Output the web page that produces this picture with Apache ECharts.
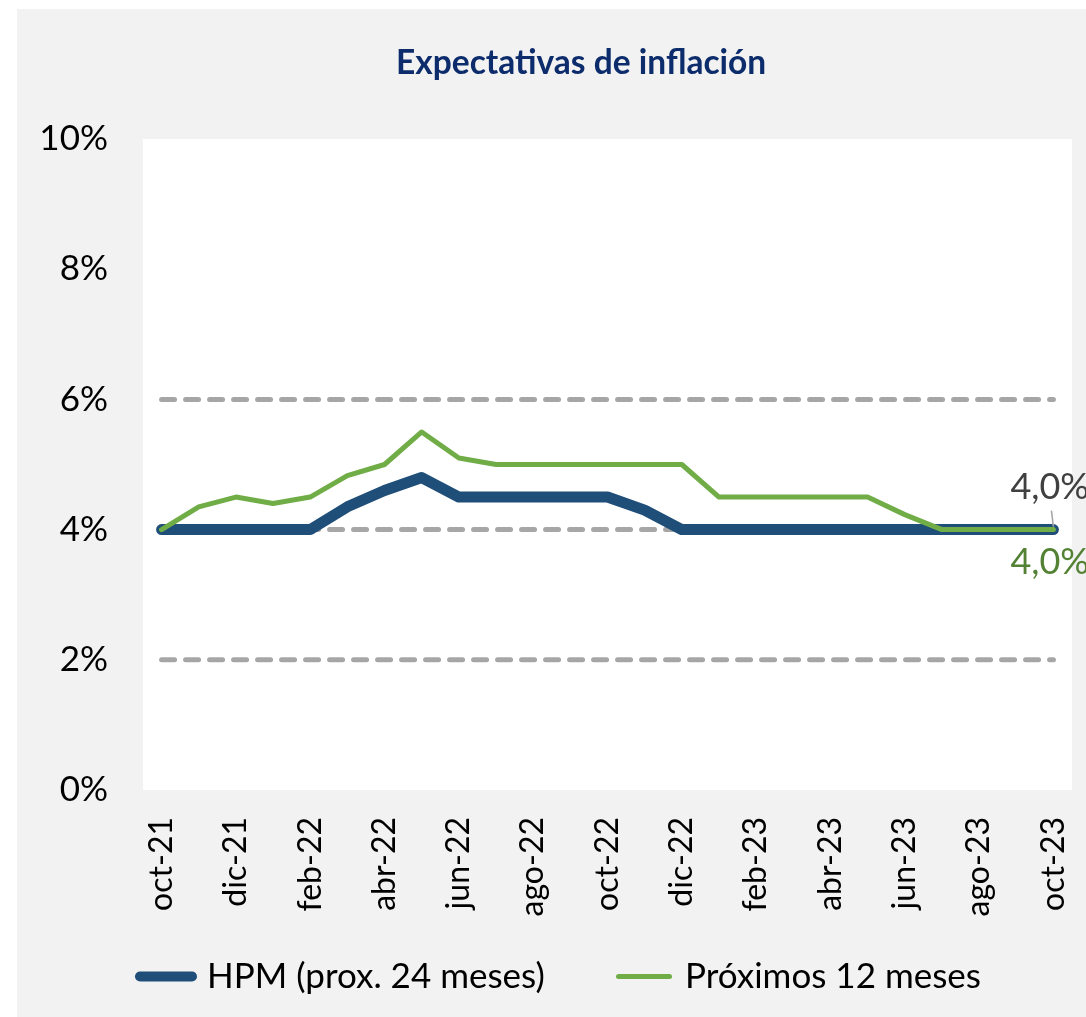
<!DOCTYPE html>
<html>
<head>
<meta charset="utf-8">
<script src="https://cdn.jsdelivr.net/npm/echarts@6/dist/echarts.min.js"></script>
<style>
html,body{margin:0;padding:0;background:#fff;}
#c{width:1086px;height:1017px;}
</style>
</head>
<body>
<div id="c"></div>
<script>
const categories = ['oct-21','nov-21','dic-21','ene-22','feb-22','mar-22','abr-22','may-22','jun-22','jul-22','ago-22','sep-22','oct-22','nov-22','dic-22','ene-23','feb-23','mar-23','abr-23','may-23','jun-23','jul-23','ago-23','sep-23','oct-23'];
const hpm = [4.0,4.0,4.0,4.0,4.0,4.35,4.6,4.8,4.5,4.5,4.5,4.5,4.5,4.3,4.0,4.0,4.0,4.0,4.0,4.0,4.0,4.0,4.0,4.0,4.0];
const prox12 = [4.0,4.35,4.5,4.4,4.5,4.83,5.0,5.5,5.1,5.0,5.0,5.0,5.0,5.0,5.0,4.5,4.5,4.5,4.5,4.5,4.23,4.0,4.0,4.0,4.0];
const refLevels = [2, 4, 6];
const yTicks = [0, 2, 4, 6, 8, 10];
const seriesNames = ['HPM (prox. 24 meses)', 'Próximos 12 meses'];
const titleText = 'Expectativas de inflación';

const FONT = 'Lato';
const chart = echarts.init(document.getElementById('c'), null, {renderer: 'canvas'});

function withEndLabel(arr, color, dy) {
  return arr.map((v, i) => {
    if (i !== arr.length - 1) return v;
    return {
      value: v,
      label: {
        show: true,
        position: 'inside',
        align: 'left',
        verticalAlign: 'middle',
        offset: [-43, dy],
        formatter: (p) => p.value.toFixed(1).replace('.', ',') + '%',
        color: color,
        fontSize: 36,
        fontFamily: FONT
      }
    };
  });
}

const refSeries = refLevels.map(lv => ({
  name: 'ref' + lv,
  type: 'line',
  data: categories.map(() => lv),
  showSymbol: false,
  silent: true,
  z: 1,
  lineStyle: {color: '#A6A6A6', width: 5, type: [13, 11], cap: 'round'}
}));

const blueIcon = 'path://M5,0 L57,0 A5,5 0 0 1 57,10 L5,10 A5,5 0 0 1 5,0 Z';
const greenIcon = 'path://M2.5,0 L53.5,0 A2.5,2.5 0 0 1 53.5,5 L2.5,5 A2.5,2.5 0 0 1 2.5,0 Z';

chart.setOption({
  backgroundColor: '#ffffff',
  animation: false,
  graphic: [{
    id: 'bg',
    type: 'rect', left: 17, top: 9, z: -10,
    shape: {width: 1069, height: 1008},
    style: {fill: '#F2F2F2'}
  }],
  title: {
    text: titleText,
    left: 396,
    top: 46,
    padding: 0,
    textStyle: {fontFamily: FONT, fontSize: 33.5, fontWeight: 'bold', color: '#0D2C6C'}
  },
  grid: {
    left: 143, right: 14, top: 139, bottom: 227,
    show: true, backgroundColor: '#ffffff', borderWidth: 0
  },
  legend: [{
    data: [{name: seriesNames[0], icon: blueIcon}],
    left: 135, top: 959, padding: 0,
    itemWidth: 62, itemHeight: 10,
    textStyle: {fontFamily: FONT, fontSize: 35, color: '#000', padding: [0, 0, 0, 5]},
    selectedMode: false
  }, {
    data: [{name: seriesNames[1], icon: greenIcon}],
    left: 616, top: 959, padding: 0,
    itemWidth: 56, itemHeight: 5,
    textStyle: {fontFamily: FONT, fontSize: 35, color: '#000', padding: [0, 0, 0, 8]},
    selectedMode: false
  }],
  xAxis: {
    type: 'category',
    data: categories,
    boundaryGap: true,
    axisLine: {show: false},
    axisTick: {show: false},
    axisLabel: {interval: 1, rotate: 90, fontSize: 32, color: '#000', fontFamily: FONT, margin: 27}
  },
  yAxis: {
    type: 'value',
    min: yTicks[0], max: yTicks[yTicks.length - 1], interval: 2,
    axisLine: {show: false},
    axisTick: {show: false},
    splitLine: {show: false},
    axisLabel: {formatter: '{value}%', fontSize: 35, color: '#000', fontFamily: FONT, margin: 35}
  },
  series: [
    ...refSeries,
    {
      name: seriesNames[0],
      type: 'line',
      data: withEndLabel(hpm, '#404040', -42),
      symbol: 'circle', symbolSize: 0, showSymbol: true,
      z: 3,
      itemStyle: {color: '#1F4E79'},
      lineStyle: {color: '#1F4E79', width: 11, cap: 'round', join: 'round'}
    },
    {
      name: seriesNames[1],
      type: 'line',
      data: withEndLabel(prox12, '#548235', 33),
      symbol: 'circle', symbolSize: 0, showSymbol: true,
      z: 4,
      itemStyle: {color: '#70AD47'},
      lineStyle: {color: '#70AD47', width: 5, cap: 'round', join: 'round'}
    }
  ]
});

// small leader line from the HPM end label down to its last point, placed via the axes
const lastIdx = categories.length - 1;
const endPt = chart.convertToPixel({gridIndex: 0}, [lastIdx, hpm[lastIdx]]);
chart.setOption({
  graphic: [{
    id: 'leader', type: 'line', z: 5, silent: true,
    shape: {x1: endPt[0] - 2, y1: endPt[1] - 19, x2: endPt[0], y2: endPt[1] - 3},
    style: {stroke: '#A6A6A6', lineWidth: 1.5}
  }]
});
</script>
</body>
</html>
